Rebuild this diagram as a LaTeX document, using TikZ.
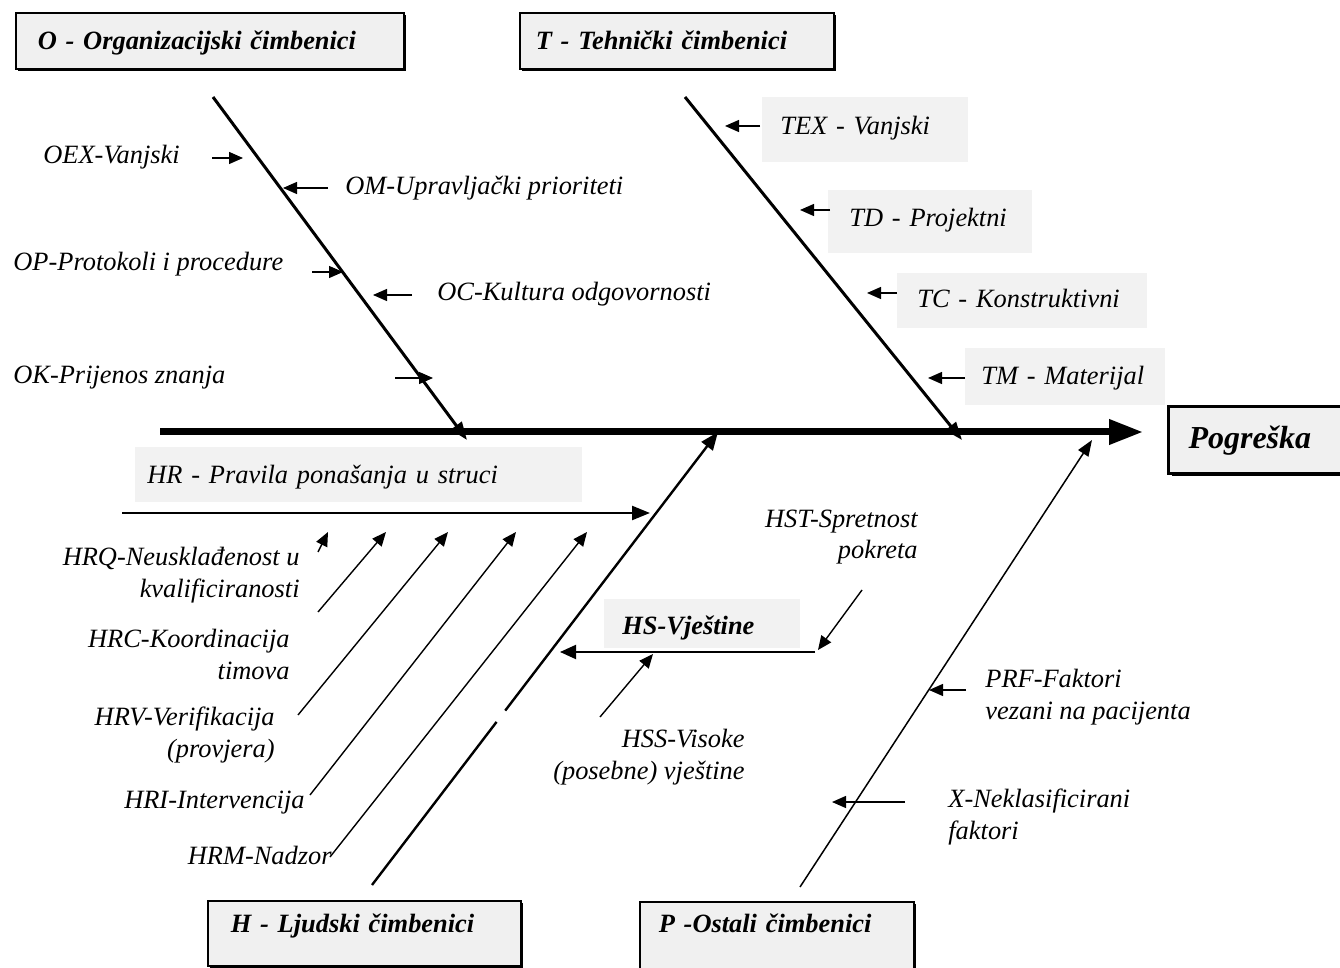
\documentclass[tikz,border=0pt]{standalone}
\usepackage{fontspec}
\setmainfont{Liberation Serif}
\usetikzlibrary{arrows.meta, calc, shadows}

\begin{document}
\begin{tikzpicture}[x=0.5pt, y=-0.5pt,
    every node/.style={inner sep=0pt, font=\fontsize{13.2}{16}\selectfont\itshape},
    cat/.style={draw, line width=0.8pt, fill=gray!12, anchor=north west, align=left,
        font=\fontsize{13.2}{16}\selectfont\bfseries\itshape,
        drop shadow={shadow xshift=1pt, shadow yshift=-1pt, fill=black, opacity=1}},
    tag/.style={fill=gray!10, anchor=north west, align=left},
    spine/.style={line width=3.5pt, -{Triangle[length=17pt, width=12pt]}},
    bone/.style={line width=1.5pt, -{Triangle[length=9pt, width=6.5pt]}},
    rib/.style={line width=1.2pt, -{Triangle[length=9pt, width=7pt]}},
    twig/.style={line width=0.7pt, -{Triangle[length=7pt, width=6pt]}}]

\useasboundingbox (0,0) rectangle (1340,968);
\clip (0,0) rectangle (1340,968);

% category boxes
\node[cat, inner xsep=11pt, text width=172pt, text height=18.5pt, text depth=9.5pt] (catO) at (15,12) {O - Organizacijski čimbenici};
\node[cat, inner xsep=8pt, text width=141pt, text height=18.5pt, text depth=9.5pt] (catT) at (519,12) {T - Tehnički čimbenici};
\node[cat, inner xsep=11.5pt, text width=133.5pt, text height=16pt, text depth=16.5pt] (catH) at (207,900) {H - Ljudski čimbenici};
\node[cat, inner xsep=9.5pt, text width=118pt, text height=15.5pt, text depth=29pt] (catP) at (639,901) {P -Ostali čimbenici};
\node[cat, line width=1.5pt, inner xsep=10pt, text width=76.5pt, text height=21.25pt, text depth=12.25pt,
    font=\fontsize{16}{19}\selectfont\bfseries\itshape,
    drop shadow={shadow xshift=1.5pt, shadow yshift=-1.5pt, fill=black, opacity=1}] (err) at (1167,405) {Pogreška};

% shaded labels
\node[tag, inner xsep=9pt, text width=85pt, text height=18.5pt, text depth=14pt] (tex) at (762,97) {TEX - Vanjski};
\node[tag, inner xsep=10.5pt, text width=81pt, text height=18pt, text depth=13.5pt] (td) at (828,190) {TD - Projektni};
\node[tag, inner xsep=10pt, text width=105pt, text height=17pt, text depth=10.5pt] (tc) at (897,273) {TC - Konstruktivni};
\node[tag, inner xsep=8pt, text width=84pt, text height=18pt, text depth=10.5pt] (tm) at (965,348) {TM - Materijal};
\node[tag, inner xsep=6pt, text width=211.5pt, text height=18pt, text depth=9.5pt] (hr) at (135,447) {HR - Pravila ponašanja u struci};
\node[tag, inner xsep=9pt, text width=80pt, text height=17.5pt, text depth=7pt,
    font=\fontsize{13.2}{16}\selectfont\bfseries\itshape] (hs) at (604,599) {HS-Vještine};

% plain labels (two-line nodes sit on their last line)
\node[anchor=base west] (oex) at (43,164) {OEX-Vanjski};
\node[anchor=base west] (om) at (345,195) {OM-Upravljački prioriteti};
\node[anchor=base west] (op) at (13,271) {OP-Protokoli i procedure};
\node[anchor=base west] (oc) at (437,301) {OC-Kultura odgovornosti};
\node[anchor=base west] (ok) at (13,384) {OK-Prijenos znanja};
\node[anchor=base east, align=right] (hrq) at (300,597) {HRQ-Neusklađenost u\\kvalificiranosti};
\node[anchor=base east, align=right] (hrc) at (290,679) {HRC-Koordinacija\\timova};
\node[anchor=base east, align=right] (hrv) at (275,757) {HRV-Verifikacija\\(provjera)};
\node[anchor=base east] (hri) at (305,808) {HRI-Intervencija};
\node[anchor=base east] (hrm) at (332,864) {HRM-Nadzor};
\node[anchor=base east, align=right] (hst) at (918,559) {HST-Spretnost\\pokreta};
\node[anchor=base east, align=right] (hss) at (745,779) {HSS-Visoke\\(posebne) vještine};
\node[anchor=base west, align=left] (prf) at (985,719) {PRF-Faktori\\vezani na pacijenta};
\node[anchor=base west, align=left] (xn) at (948,839) {X-Neklasificirani\\faktori};

% spine and bones
\coordinate (sp-s) at (160,432);  \coordinate (sp-e) at (1143,432);
\coordinate (o-s) at (213,97);    \coordinate (o-e) at (467,440);
\coordinate (t-s) at (685,97);    \coordinate (t-e) at (962,440);
\coordinate (h-s) at (372,885);   \coordinate (h-e) at (718,432);
\coordinate (p-s) at (800,887);   \coordinate (p-e) at (1092,440);
\coordinate (hr-s) at (122,513);  \coordinate (hr-e) at (650,513);
\coordinate (hs-s) at (815,652);  \coordinate (hs-e) at (560,652);
\draw[spine] (sp-s) -- (sp-e);
\draw[bone] (o-s) -- (o-e);
\draw[bone] (t-s) -- (t-e);
\draw[rib, -] (h-s) -- ($(h-s)!0.36!(h-e)$);
\draw[rib] ($(h-s)!0.385!(h-e)$) -- (h-e);
\draw[line width=0.75pt, -{Triangle[length=8pt, width=6pt]}] (p-s) -- (p-e);
\draw[rib] (hr-s) -- (hr-e);
\draw[line width=1pt, -{Triangle[length=8pt, width=7pt]}] (hs-s) -- (hs-e);

% small arrows
\coordinate (oex1) at (212,158);  \coordinate (oex2) at (243,158);
\coordinate (om1) at (328,188);   \coordinate (om2) at (283,188);
\coordinate (op1) at (312,272);   \coordinate (op2) at (343,272);
\coordinate (oc1) at (412,295);   \coordinate (oc2) at (373,295);
\coordinate (ok1) at (395,378);   \coordinate (ok2) at (433,378);
\coordinate (tex1) at (760,126);  \coordinate (tex2) at (725,126);
\coordinate (td1) at (830,210);   \coordinate (td2) at (800,210);
\coordinate (tc1) at (897,293);   \coordinate (tc2) at (867,293);
\coordinate (tm1) at (965,378);   \coordinate (tm2) at (928,378);
\coordinate (hrq1) at (318,552);  \coordinate (hrq2) at (328,532);
\coordinate (hrc1) at (318,612);  \coordinate (hrc2) at (386,532);
\coordinate (hrv1) at (298,715);  \coordinate (hrv2) at (448,532);
\coordinate (hri1) at (310,795);  \coordinate (hri2) at (516,532);
\coordinate (hrm1) at (330,857);  \coordinate (hrm2) at (587,532);
\coordinate (hst1) at (862,590);  \coordinate (hst2) at (818,650);
\coordinate (hss1) at (600,717);  \coordinate (hss2) at (653,654);
\coordinate (prf1) at (966,690);  \coordinate (prf2) at (929,690);
\coordinate (xn1) at (905,802);   \coordinate (xn2) at (832,802);
\draw[twig] (oex1) -- (oex2);
\draw[twig] (om1) -- (om2);
\draw[twig] (op1) -- (op2);
\draw[twig] (oc1) -- (oc2);
\draw[twig] (ok1) -- (ok2);
\draw[twig] (tex1) -- (tex2);
\draw[twig] (td1) -- (td2);
\draw[twig] (tc1) -- (tc2);
\draw[twig] (tm1) -- (tm2);
\draw[twig] (hrq1) -- (hrq2);
\draw[twig] (hrc1) -- (hrc2);
\draw[twig] (hrv1) -- (hrv2);
\draw[twig] (hri1) -- (hri2);
\draw[twig] (hrm1) -- (hrm2);
\draw[twig] (hst1) -- (hst2);
\draw[twig] (hss1) -- (hss2);
\draw[twig] (prf1) -- (prf2);
\draw[twig] (xn1) -- (xn2);

\end{tikzpicture}
\end{document}
